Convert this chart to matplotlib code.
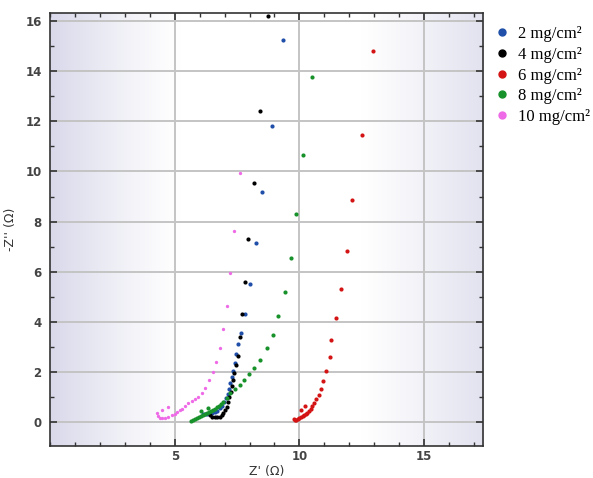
import numpy as np
import matplotlib
matplotlib.use("Agg")
import matplotlib.pyplot as plt
from matplotlib.ticker import MultipleLocator
from matplotlib.lines import Line2D

# Nyquist data (Z' and -Z'' in ohm)
labels = ["2 mg/cm\u00b2", "4 mg/cm\u00b2", "6 mg/cm\u00b2", "8 mg/cm\u00b2", "10 mg/cm\u00b2"]
colors = ["#1f4fa8", "#000000", "#d41414", "#17912a", "#ee6ae6"]

z_re_2 = [6.12, 6.20, 6.30, 6.40, 6.50, 6.60, 6.70, 6.80, 6.90, 6.98, 7.05, 7.12, 7.18,
          7.23, 7.28, 7.33, 7.40, 7.47, 7.55, 7.65, 7.83, 8.03, 8.25, 8.52, 8.89, 9.34]
z_im_2 = [0.34, 0.33, 0.33, 0.34, 0.36, 0.40, 0.46, 0.55, 0.66, 0.80, 0.96, 1.14, 1.34,
          1.56, 1.80, 2.05, 2.35, 2.70, 3.10, 3.55, 4.31, 5.51, 7.14, 9.17, 11.83, 15.26]

z_re_4 = [6.40, 6.50, 6.60, 6.70, 6.80, 6.88, 6.95, 7.02, 7.08, 7.14, 7.19, 7.24, 7.28,
          7.33, 7.38, 7.44, 7.52, 7.60, 7.70, 7.80, 7.93, 8.16, 8.43, 8.76]
z_im_4 = [0.28, 0.22, 0.20, 0.20, 0.22, 0.28, 0.36, 0.48, 0.62, 0.80, 1.00, 1.22, 1.45,
          1.70, 1.98, 2.30, 2.64, 3.39, 4.31, 5.61, 7.32, 9.54, 12.41, 16.21]

z_re_6 = [9.79, 9.82, 9.87, 9.93, 10.00, 10.06, 10.13, 10.20, 10.26, 10.32, 10.38, 10.45,
          10.52, 10.59, 10.67, 10.77, 10.87, 10.95, 11.06, 11.21, 11.27, 11.46, 11.65,
          11.89, 12.09, 12.50, 12.97, 10.06, 10.23]
z_im_6 = [0.12, 0.09, 0.10, 0.13, 0.16, 0.20, 0.24, 0.28, 0.33, 0.38, 0.44, 0.53,
          0.64, 0.78, 0.92, 1.09, 1.33, 1.65, 2.05, 2.59, 3.27, 4.17, 5.30,
          6.83, 8.85, 11.47, 14.80, 0.49, 0.65]

z_re_8 = [5.65, 5.72, 5.80, 5.88, 5.96, 6.04, 6.12, 6.20, 6.28, 6.36, 6.44, 6.52, 6.60,
          6.68, 6.76, 6.85, 6.95, 7.08, 7.22, 7.42, 7.60, 7.76, 7.96, 8.19, 8.43, 8.69,
          8.93, 9.16, 9.43, 9.66, 9.88, 10.14, 10.52, 6.05, 6.35]
z_im_8 = [0.06, 0.10, 0.14, 0.18, 0.22, 0.26, 0.30, 0.33, 0.37, 0.41, 0.45, 0.49, 0.54,
          0.59, 0.65, 0.72, 0.80, 0.95, 1.16, 1.32, 1.49, 1.69, 1.91, 2.15, 2.48, 2.95,
          3.49, 4.25, 5.21, 6.55, 8.32, 10.67, 13.77, 0.45, 0.58]

z_re_10 = [4.30, 4.33, 4.40, 4.50, 4.62, 4.75, 4.88, 5.00, 5.10, 5.20, 5.30, 5.42, 5.55,
           5.69, 5.82, 5.95, 6.09, 6.22, 6.37, 6.52, 6.65, 6.80, 6.93, 7.08, 7.21, 7.38,
           7.63, 4.49, 4.75]
z_im_10 = [0.36, 0.25, 0.18, 0.16, 0.17, 0.21, 0.27, 0.33, 0.40, 0.47, 0.54, 0.65, 0.76,
           0.85, 0.93, 1.02, 1.16, 1.35, 1.67, 2.00, 2.40, 2.95, 3.72, 4.63, 5.94, 7.64,
           9.94, 0.49, 0.62]

series = [(z_re_2, z_im_2), (z_re_4, z_im_4), (z_re_6, z_im_6),
          (z_re_8, z_im_8), (z_re_10, z_im_10)]
sizes = [3.0, 3.0, 3.0, 3.0, 2.4]

fig = plt.figure(figsize=(5.93, 4.78), dpi=100)
ax = fig.add_axes([0.0843, 0.0669, 0.7310, 0.9065])

xmin, xmax = 0, 17.38
ymin, ymax = -0.95, 16.33

# shaded background: lavender at left edge and right side, white in the middle
xs = np.linspace(xmin, xmax, 400)
shade = np.zeros_like(xs)
left = xs < 5.2
shade[left] = (1 - xs[left] / 5.2) ** 1.2
right = xs > 12.5
shade[right] = ((xs[right] - 12.5) / (xmax - 12.5)) ** 1.1 * 0.75
c0 = np.array([1.0, 1.0, 1.0])
c1 = np.array([0.85, 0.85, 0.92])
img = c0[None, None, :] + shade[None, :, None] * (c1 - c0)[None, None, :]
ax.imshow(img, extent=[xmin, xmax, ymin, ymax], aspect="auto", zorder=0,
          interpolation="bilinear")

for (x, y), col, ms in zip(series, colors, sizes):
    ax.plot(x, y, "o", color=col, ms=ms, mec="none", zorder=3)

ax.set_xlim(xmin, xmax)
ax.set_ylim(ymin, ymax)

ax.xaxis.set_major_locator(MultipleLocator(5))
ax.xaxis.set_minor_locator(MultipleLocator(1))
ax.yaxis.set_major_locator(MultipleLocator(2))
ax.yaxis.set_minor_locator(MultipleLocator(1))
ax.set_xticks([5, 10, 15])

ax.grid(True, which="major", color="#c4c4c4", lw=1.4, zorder=1)
ax.set_axisbelow(True)

ax.tick_params(which="both", direction="in", top=True, right=True,
               colors="#333333", labelsize=8.5)
ax.tick_params(axis="x", pad=3)
ax.tick_params(axis="y", pad=6)
ax.tick_params(which="major", length=5, width=1.2)
ax.tick_params(which="minor", length=3, width=1.0)
for lab in ax.get_xticklabels() + ax.get_yticklabels():
    lab.set_fontweight("bold")
    lab.set_color("#444444")

for sp in ax.spines.values():
    sp.set_color("#333333")
    sp.set_linewidth(1.2)

ax.set_xlabel("Z' (\u03a9)", fontsize=9, color="#333333", labelpad=1)
ax.set_ylabel("-Z'' (\u03a9)", fontsize=9, color="#333333", labelpad=6)

handles = [Line2D([], [], ls="none", marker="o", color=c, ms=5) for c in colors]
fig.legend(handles, labels, loc="upper left", bbox_to_anchor=(0.835, 0.945),
           frameon=False, handletextpad=0.55, labelspacing=0.28, handlelength=0.8,
           borderaxespad=0, borderpad=0,
           prop={"family": "Liberation Serif", "size": 12})

fig.savefig("out.png", dpi=100)
